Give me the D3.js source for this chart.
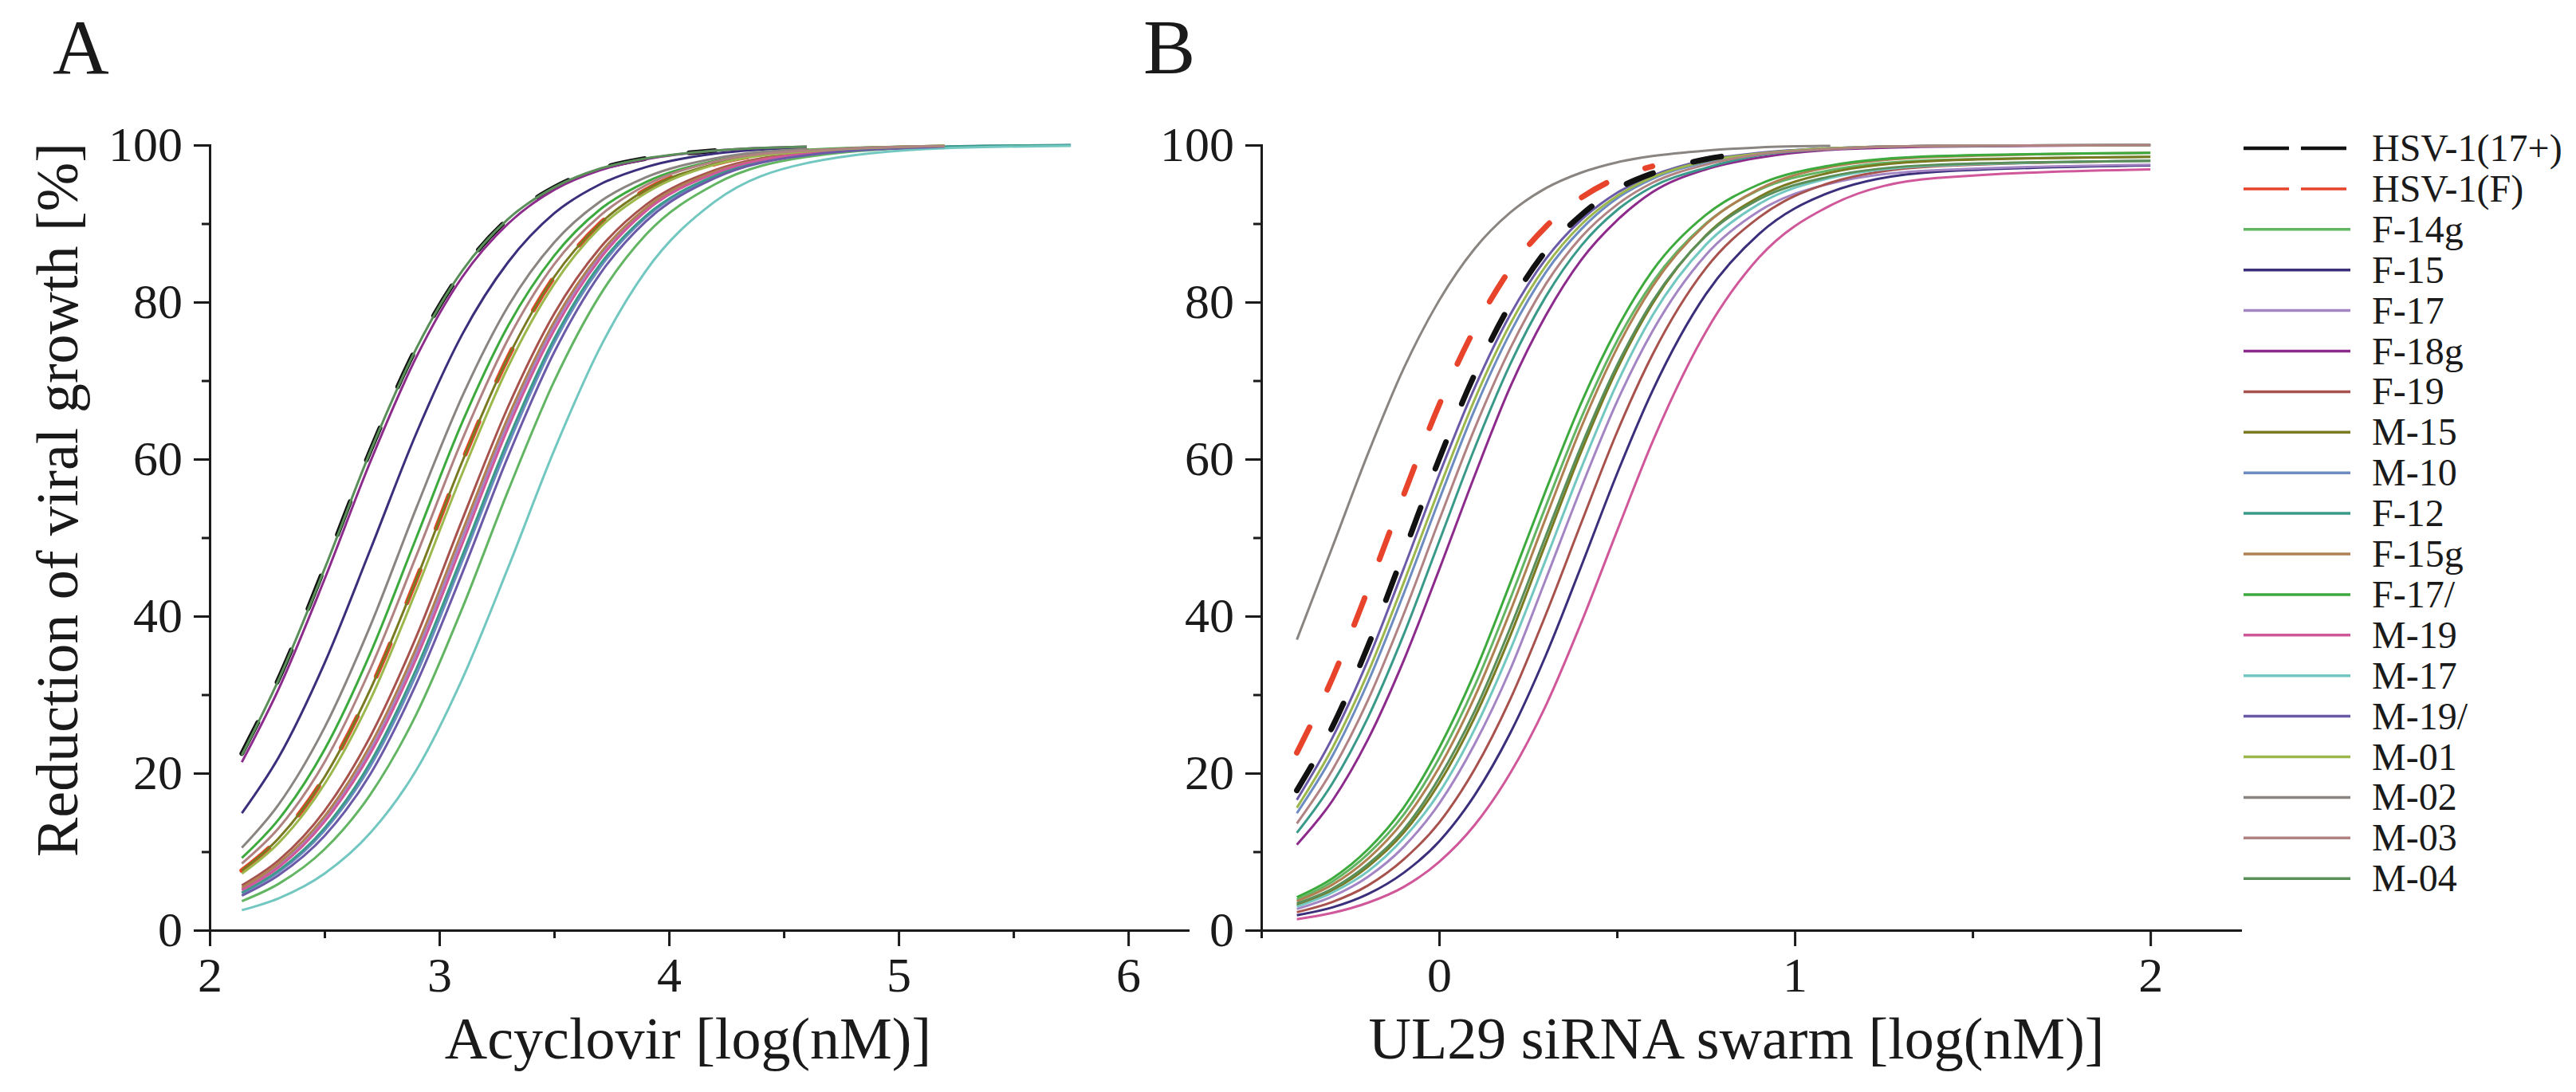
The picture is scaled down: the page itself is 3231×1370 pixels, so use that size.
<!DOCTYPE html>
<html>
<head>
<meta charset="utf-8">
<script src="https://cdn.jsdelivr.net/npm/d3@7"></script>
<style>
    body { margin: 0; background: #fff; }
    svg text { font-family: "Liberation Serif", "Times New Roman", serif; fill: #1a1a1a; }
</style>
</head>
<body>
<svg id="fig"></svg>
<script>
// strains, in legend order
const series = ['HSV-1(17+)', 'HSV-1(F)', 'F-14g', 'F-15', 'F-17', 'F-18g', 'F-19', 'M-15', 'M-10',
    'F-12', 'F-15g', 'F-17/', 'M-19', 'M-17', 'M-19/', 'M-01', 'M-02', 'M-03', 'M-04'];

const colors = ['#111111', '#e8432b', '#62b562', '#3b2f7c', '#a485c4', '#8c2b8c', '#a8524e', '#7a7a22',
    '#6c8cc2', '#3a9a8a', '#b08052', '#3caa3c', '#d0589a', '#72c8c0', '#6a5aa8', '#9cb84c', '#8a8580',
    '#b08282', '#5a8f5a'];

const yTicks = [0, 20, 40, 60, 80, 100];
const yMinor = [10, 30, 50, 70, 90];
const xTicksA = [2, 3, 4, 5, 6];
const xMinorA = [2.5, 3.5, 4.5, 5.5];
const xTicksB = [0, 1, 2];
const xMinorB = [-0.5, 0.5, 1.5];

// panel A: acyclovir, log(nM) -> reduction of viral growth (%)
const doseA = [2.14, 2.3, 2.5, 2.7, 2.9, 3.1, 3.3, 3.5, 3.7, 3.9, 4.2, 4.6, 5.2, 5.75];
const responseA = [
    [22.5, 32.0, 46.2, 61.1, 74.2, 84.0, 90.6, 94.6, 97.0, 98.3, 99.3, null, null, null],
    [7.6, 11.7, 19.5, 30.7, 44.7, 59.7, 73.0, 83.2, 90.0, 94.3, 97.6, 99.3, null, null],
    [3.7, 5.9, 10.3, 17.3, 27.5, 41.0, 56.0, 69.9, 80.9, 88.6, 95.0, 98.5, 99.8, null],
    [14.9, 22.0, 34.0, 48.5, 63.3, 75.9, 85.1, 91.3, 95.0, 97.2, 98.9, 99.7, null, null],
    [5.2, 8.2, 14.1, 23.0, 35.3, 50.0, 64.7, 77.0, 85.9, 91.8, 96.5, 98.9, 99.8, null],
    [21.4, 30.7, 44.7, 59.7, 73.0, 83.2, 90.0, 94.3, 96.8, 98.2, 99.3, 99.8, null, null],
    [5.7, 8.9, 15.2, 24.7, 37.4, 52.3, 66.7, 78.5, 86.9, 92.4, 96.8, 99.0, 99.8, null],
    [7.6, 11.7, 19.5, 30.7, 44.7, 59.7, 73.0, 83.2, 90.0, 94.3, 97.6, 99.3, 99.9, null],
    [4.7, 7.4, 12.7, 20.9, 32.6, 47.0, 61.8, 74.8, 84.4, 90.8, 96.0, 98.8, 99.8, 100],
    [4.8, 7.6, 13.0, 21.4, 33.3, 47.7, 62.5, 75.3, 84.8, 91.0, 96.1, 98.8, 99.8, 100],
    [5.4, 8.5, 14.5, 23.6, 36.0, 50.8, 65.4, 77.5, 86.2, 92.0, 96.6, 98.9, 99.8, null],
    [9.2, 14.1, 23.0, 35.3, 50.0, 64.7, 77.0, 85.9, 91.8, 95.3, 98.0, 99.4, 99.9, null],
    [5.1, 8.0, 13.8, 22.5, 34.6, 49.2, 64.0, 76.4, 85.5, 91.6, 96.4, 98.9, 99.8, null],
    [2.55, 4.05, 7.2, 12.4, 20.4, 32.0, 46.2, 61.1, 74.2, 84.0, 92.8, 97.7, 99.6, 99.9],
    [4.4, 7.0, 12.0, 19.9, 31.4, 45.5, 60.4, 73.6, 83.6, 90.3, 95.8, 98.7, 99.8, null],
    [7.2, 11.1, 18.6, 29.4, 43.3, 58.2, 71.8, 82.3, 89.5, 93.9, 97.5, 99.2, 99.9, null],
    [10.5, 16.0, 25.8, 38.8, 53.8, 68.0, 79.5, 87.6, 92.8, 95.9, 98.3, 99.5, null, null],
    [8.5, 13.0, 21.4, 33.3, 47.7, 62.5, 75.3, 84.8, 91.0, 94.9, 97.9, 99.3, 99.9, null],
    [22.3, 31.9, 46.0, 61.0, 74.1, 84.0, 90.6, 94.6, 97.0, 98.3, 99.3, 99.8, null, null],
];

// panel B: UL29 siRNA swarm, log(nM) -> reduction of viral growth (%)
const doseB = [-0.4, -0.3, -0.2, -0.1, 0, 0.1, 0.2, 0.3, 0.4, 0.5, 0.6, 0.75, 0.9, 1.1, 1.4, 2.0];
const responseB = [
    [17.8, 25.9, 36.2, 48.0, 60.0, 70.8, 79.7, 86.5, 91.1, 94.4, 96.4, 98.2, 99.1, null, null, null],
    [22.6, 32.1, 43.4, 55.4, 66.9, 76.6, 84.2, 89.6, 93.3, 95.8, 97.3, null, null, null, null, null],
    [3.9, 6.2, 9.7, 14.7, 21.9, 31.1, 42.2, 54.0, 65.3, 75.0, 82.5, 90.0, 94.3, 96.8, 98.1, 98.5],
    [1.9, 2.9, 4.6, 7.3, 11.3, 17.2, 25.1, 35.0, 46.4, 58.1, 68.7, 81.0, 88.7, 94.0, 96.6, 97.4],
    [2.7, 4.3, 6.8, 10.6, 16.1, 23.7, 33.2, 44.7, 56.4, 67.3, 76.3, 86.0, 91.6, 95.1, 96.8, 97.5],
    [10.9, 16.5, 24.3, 34.3, 45.9, 57.9, 69.2, 78.3, 85.4, 90.4, 94.0, 96.9, 98.4, 99.4, 99.8, 100],
    [2.3, 3.6, 5.7, 9.0, 13.7, 20.5, 29.4, 40.2, 51.9, 63.4, 73.3, 84.3, 90.8, 95.2, 97.3, 98.0],
    [3.2, 5.1, 8.1, 12.4, 18.7, 27.1, 37.5, 49.3, 61.0, 71.4, 79.8, 88.5, 93.4, 96.5, 98.0, 98.5],
    [14.9, 22.2, 31.6, 42.8, 54.8, 66.3, 76.1, 83.8, 89.3, 93.2, 95.7, 97.8, 98.9, 99.6, 99.9, 100],
    [12.4, 18.7, 27.1, 37.6, 49.5, 61.4, 72.1, 80.7, 87.2, 91.7, 94.7, 97.1, 98.7, 99.5, 99.9, 100],
    [3.7, 5.8, 9.1, 13.9, 20.7, 29.7, 40.6, 52.5, 64.1, 74.1, 82.0, 89.9, 94.4, 97.2, 98.5, 99.0],
    [4.2, 6.6, 10.3, 15.6, 23.2, 32.8, 44.2, 56.0, 67.2, 76.6, 84.0, 91.1, 95.0, 97.4, 98.6, 99.0],
    [1.4, 2.2, 3.5, 5.5, 8.7, 13.4, 20.0, 28.6, 39.2, 50.8, 62.2, 76.2, 85.7, 92.3, 95.8, 96.9],
    [3.0, 4.8, 7.5, 11.7, 17.5, 25.6, 35.7, 47.2, 58.9, 69.6, 78.3, 87.3, 92.5, 95.8, 97.4, 98.0],
    [16.6, 24.5, 34.4, 46.0, 58.0, 69.1, 78.4, 85.5, 90.5, 93.9, 96.1, 98.1, 99.0, 99.6, 99.9, 100],
    [15.6, 23.2, 32.8, 44.2, 56.2, 67.6, 77.2, 84.6, 89.9, 93.5, 95.9, 97.95, 98.9, 99.6, 99.9, 100],
    [37.0, 48.8, 60.7, 71.5, 80.2, 86.8, 91.4, 94.5, 96.5, 97.8, 98.6, 99.3, 99.7, 99.9, null, null],
    [13.6, 20.4, 29.3, 40.2, 52.2, 63.9, 74.1, 82.3, 88.3, 92.4, 95.2, 97.5, 98.8, 99.5, 99.9, 100],
    [3.4, 5.3, 8.4, 12.8, 19.4, 27.9, 38.5, 50.2, 61.7, 71.9, 80.1, 88.4, 93.1, 96.0, 97.5, 98.0],
];

class CurvePanel {

    constructor(config, dose, response) {
        this.config = {
            parent: config.parent,
            left: config.left,
            top: config.top || 182,
            width: config.width,
            height: config.height || 985,
            xdomain: config.xdomain,
            xticks: config.xticks,
            xminor: config.xminor,
            xlabel: config.xlabel || '',
            xlabelCenter: config.xlabelCenter,
            letter: config.letter || '',
            letterX: config.letterX,
            dashWidth: config.dashWidth || 6,
            dashArray: config.dashArray || '36,52',
            dashedOnTop: config.dashedOnTop || false,
        };
        this.dose = dose;
        this.response = response;
        this.init();
    }

    init() {
        let self = this;
        let c = self.config;

        self.chart = c.parent.append('g')
            .attr('transform', `translate(${c.left}, ${c.top})`);

        self.xscale = d3.scaleLinear()
            .domain(c.xdomain)
            .range([0, c.width]);

        self.yscale = d3.scaleLinear()
            .domain([0, 100])
            .range([c.height, 0]);

        self.xaxis = d3.axisBottom(self.xscale)
            .tickValues(c.xticks)
            .tickFormat(d => d)
            .tickSize(20)
            .tickPadding(13)
            .tickSizeOuter(0);

        self.xminor = d3.axisBottom(self.xscale)
            .tickValues(c.xminor)
            .tickSize(10)
            .tickFormat('')
            .tickSizeOuter(0);

        self.yaxis = d3.axisLeft(self.yscale)
            .tickValues(yTicks)
            .tickFormat(d => d)
            .tickSize(20)
            .tickPadding(14)
            .tickSizeOuter(0);

        self.yminor = d3.axisLeft(self.yscale)
            .tickValues(yMinor)
            .tickSize(10)
            .tickFormat('')
            .tickSizeOuter(0);
    }

    render() {
        let self = this;
        let c = self.config;

        let line = d3.line()
            .defined(d => d[1] != null)
            .x(d => self.xscale(d[0]))
            .y(d => self.yscale(d[1]))
            .curve(d3.curveMonotoneX);

        let rows = self.response.map((vals, i) => ({
            i: i,
            pts: vals.map((v, j) => [self.dose[j], v]),
        }));
        let dashed = rows.filter(r => r.i < 2).reverse();
        let solid = rows.filter(r => r.i >= 2);
        let ordered = c.dashedOnTop ? solid.concat(dashed) : dashed.concat(solid);

        self.chart.append('g')
            .selectAll('path')
            .data(ordered)
            .join('path')
            .attr('d', r => line(r.pts))
            .attr('fill', 'none')
            .attr('stroke', r => colors[r.i])
            .attr('stroke-width', r => r.i < 2 ? c.dashWidth : 3)
            .attr('stroke-dasharray', r => r.i < 2 ? c.dashArray : null)
            .attr('stroke-linecap', r => r.i < 2 ? 'round' : 'butt');

        let axes = [
            self.chart.append('g').attr('transform', `translate(0, ${c.height})`).call(self.xminor),
            self.chart.append('g').attr('transform', `translate(0, ${c.height})`).call(self.xaxis),
            self.chart.append('g').call(self.yminor),
            self.chart.append('g').call(self.yaxis),
        ];
        axes.forEach(g => {
            g.selectAll('.domain').attr('stroke', '#1a1a1a').attr('stroke-width', 3)
                .attr('stroke-linecap', 'square');
            g.selectAll('.tick line').attr('stroke', '#1a1a1a').attr('stroke-width', 3);
            g.selectAll('.tick text').style('font-size', '62px').attr('fill', '#1a1a1a');
        });

        c.parent.append('text')
            .attr('x', c.xlabelCenter)
            .attr('y', 1328)
            .attr('font-size', '74px')
            .attr('text-anchor', 'middle')
            .text(c.xlabel);

        c.parent.append('text')
            .attr('x', c.letterX)
            .attr('y', 92)
            .attr('font-size', '98px')
            .text(c.letter);
    }
}

const svg = d3.select('#fig')
    .attr('width', 3231)
    .attr('height', 1370);

let panelA = new CurvePanel({
    parent: svg,
    left: 263,
    width: 1227,
    xdomain: [2, 6.26],
    xticks: xTicksA,
    xminor: xMinorA,
    xlabel: 'Acyclovir [log(nM)]',
    xlabelCenter: 863,
    letter: 'A',
    letterX: 66,
    dashWidth: 6,
    dashArray: '44,56',
}, doseA, responseA);
panelA.render();

let panelB = new CurvePanel({
    parent: svg,
    left: 1582,
    width: 1228,
    xdomain: [-0.5, 2.253],
    xticks: xTicksB,
    xminor: xMinorB,
    xlabel: 'UL29 siRNA swarm [log(nM)]',
    xlabelCenter: 2178,
    letter: 'B',
    letterX: 1434,
    dashWidth: 7,
    dashArray: '36,52',
    dashedOnTop: true,
}, doseB, responseB);
panelB.render();

// shared y title
svg.append('text')
    .attr('transform', 'translate(97, 627) rotate(-90)')
    .attr('font-size', '74px')
    .attr('text-anchor', 'middle')
    .text('Reduction of viral growth [%]');

// legend
let legend = svg.append('g')
    .attr('transform', 'translate(2814, 186)');

let items = legend.selectAll('g')
    .data(series)
    .join('g')
    .attr('transform', (d, i) => `translate(0, ${i * 50.9})`);

items.append('line')
    .attr('x1', 0)
    .attr('x2', 134)
    .attr('stroke', (d, i) => colors[i])
    .attr('stroke-width', (d, i) => i === 0 ? 4.5 : 3.5)
    .attr('stroke-dasharray', (d, i) => i < 2 ? '57,15' : null);

items.append('text')
    .attr('x', 161)
    .attr('y', 16)
    .attr('font-size', '48px')
    .text(d => d);
</script>
</body>
</html>
